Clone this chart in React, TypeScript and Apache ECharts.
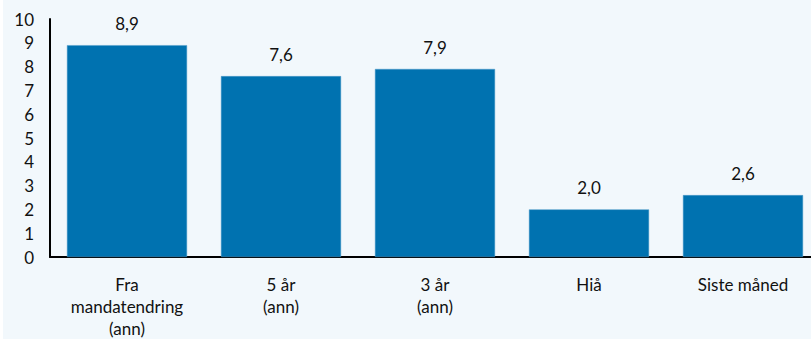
import React, { useEffect, useRef } from "react";
import * as echarts from "echarts";

const categories = ["Fra\nmandatendring\n(ann)", "5 år\n(ann)", "3 år\n(ann)", "Hiå", "Siste måned"];
const values = [8.9, 7.6, 7.9, 2.0, 2.6];
const yTicks = [0, 1, 2, 3, 4, 5, 6, 7, 8, 9, 10];

const FONT = "Lato, 'Open Sans', sans-serif";

export default function App() {
  const ref = useRef<HTMLDivElement>(null);

  useEffect(() => {
    document.body.style.margin = "0";
    const chart = echarts.init(ref.current!, null, { renderer: "svg" });
    chart.setOption({
      animation: false,
      backgroundColor: "#f2f8fc",
      grid: { left: 47, right: 0, top: 19, bottom: 79, containLabel: false },
      xAxis: {
        type: "category",
        data: categories,
        axisLine: { lineStyle: { color: "#000", width: 2 } },
        axisTick: { show: false },
        axisLabel: {
          color: "#111",
          fontFamily: FONT,
          fontSize: 17,
          lineHeight: 22,
          margin: 16,
          interval: 0,
        },
      },
      yAxis: {
        type: "value",
        min: yTicks[0],
        max: yTicks[yTicks.length - 1],
        interval: 1,
        splitLine: { show: false },
        axisLine: { show: true, lineStyle: { color: "#000", width: 2 } },
        axisTick: { show: false },
        axisLabel: {
          color: "#111",
          fontFamily: FONT,
          fontSize: 17,
          margin: 16,
        },
      },
      series: [
        {
          type: "bar",
          data: values,
          barCategoryGap: "22%",
          itemStyle: { color: "#0072b0", borderColor: "#4f9bc9", borderWidth: 0.5 },
          label: {
            show: true,
            position: "top",
            distance: 13,
            color: "#111",
            fontFamily: FONT,
            fontSize: 17,
            formatter: (p: any) => p.value.toFixed(1).replace(".", ","),
          },
        },
      ],
    });
    return () => chart.dispose();
  }, []);

  // The plot runs a little past the right edge, so the last bar is clipped by the frame.
  return (
    <div style={{ width: 811, height: 339, background: "#fff", position: "relative", overflow: "hidden" }}>
      <div ref={ref} style={{ position: "absolute", left: 3, top: 0, width: 817, height: 339 }} />
    </div>
  );
}
